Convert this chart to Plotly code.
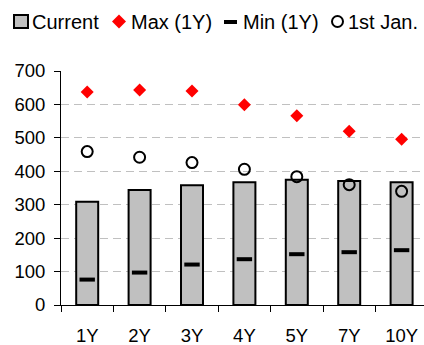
import plotly.graph_objects as go

# Tenor buckets and levels
tenors = ["1Y", "2Y", "3Y", "4Y", "5Y", "7Y", "10Y"]
current = [309, 344, 358, 367, 375, 371, 367]
max_1y = [637, 643, 640, 599, 566, 520, 496]
min_1y = [76, 97, 121, 137, 152, 158, 164]
first_jan = [459, 442, 426, 406, 384, 360, 340]

legend_labels = ["Current", "Max (1Y)", "Min (1Y)", "1st Jan."]

FONT = "Liberation Sans, Arial, sans-serif"
W, H = 424, 345
ML, MT, MB = 61, 71, 40
PW, PH = W - ML, H - MT - MB


def px(x):
    return (x - ML) / PW


def py(y):
    return (H - MB - y) / PH


fig = go.Figure()
fig.add_trace(go.Bar(
    x=tenors, y=current, width=0.42,
    marker=dict(color="#c0c0c0", line=dict(color="black", width=2)),
    showlegend=False,
))
fig.add_trace(go.Scatter(
    x=tenors, y=max_1y, mode="markers",
    marker=dict(symbol="diamond", size=10, color="#ff0000"),
    showlegend=False,
))
fig.add_trace(go.Scatter(
    x=tenors, y=min_1y, mode="markers",
    marker=dict(symbol="line-ew", size=11, color="black",
                line=dict(color="black", width=4)),
    showlegend=False,
))
fig.add_trace(go.Scatter(
    x=tenors, y=first_jan, mode="markers",
    marker=dict(symbol="circle-open", size=11, color="black",
                line=dict(color="black", width=2)),
    showlegend=False,
))

# Hand-built legend row along the top
shapes = []
annotations = []
cy = 21.5
# Current: grey square
shapes.append(dict(type="rect", xref="paper", yref="paper",
                   x0=px(14), x1=px(28), y0=py(28), y1=py(15),
                   fillcolor="#c0c0c0", line=dict(color="black", width=2)))
# Max: red diamond
dx, dy = 119, cy
d = 7
shapes.append(dict(type="path", xref="paper", yref="paper",
                   path=(f"M {px(dx - d)} {py(dy)} L {px(dx)} {py(dy - d)} "
                         f"L {px(dx + d)} {py(dy)} L {px(dx)} {py(dy + d)} Z"),
                   fillcolor="#ff0000", line=dict(width=0)))
# Min: black dash
shapes.append(dict(type="line", xref="paper", yref="paper",
                   x0=px(224), x1=px(237), y0=py(22), y1=py(22),
                   line=dict(color="black", width=4)))
# 1st Jan: open circle
cx, r = 337.5, 5.5
shapes.append(dict(type="circle", xref="paper", yref="paper",
                   x0=px(cx - r), x1=px(cx + r), y0=py(cy + r), y1=py(cy - r),
                   line=dict(color="black", width=2)))

for label, x0 in zip(legend_labels, [31, 130, 242, 347]):
    annotations.append(dict(text=label, xref="paper", yref="paper",
                            x=px(x0), y=py(cy), xanchor="left", yanchor="middle",
                            showarrow=False, borderpad=0,
                            font=dict(family=FONT, size=20, color="black")))

fig.update_layout(
    width=W, height=H,
    margin=dict(l=ML, r=0, t=MT, b=MB),
    paper_bgcolor="white", plot_bgcolor="white",
    font=dict(family=FONT, size=18.5, color="black"),
    bargap=0.5,
    shapes=shapes,
    annotations=annotations,
    showlegend=False,
)
fig.update_xaxes(
    type="category", range=[-0.5, -0.5 + PW / 52.4],
    showline=True, linecolor="black", linewidth=1,
    ticks="outside", tickson="boundaries", ticklen=6, tickcolor="black",
    showgrid=False, ticklabelstandoff=14,
)
fig.update_yaxes(
    range=[0, 700], dtick=100, tick0=0,
    showline=True, linecolor="black", linewidth=1,
    ticks="outside", ticklen=6, tickcolor="black",
    showgrid=True, gridcolor="#c0c0c0", griddash="8px,5px", gridwidth=1,
    zeroline=False, ticklabelstandoff=5,
)

fig.write_html("out.html")
